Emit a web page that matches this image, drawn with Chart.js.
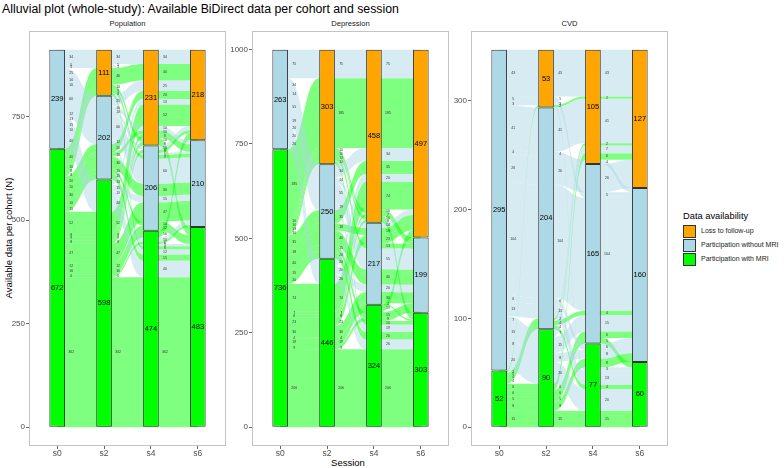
<!DOCTYPE html>
<html><head><meta charset="utf-8">
<script src="https://cdn.jsdelivr.net/npm/chart.js@4.4.1/dist/chart.umd.min.js"></script>
<style>
body{margin:0;width:784px;height:468px;position:relative;background:#fff;font-family:"Liberation Sans",Arial,sans-serif;overflow:hidden}
.abs{position:absolute;white-space:nowrap}
.strip{position:absolute;top:19px;width:197px;text-align:center;font-size:7.6px;color:#1A1A1A}
.key{position:absolute;left:683px;width:11px;height:11px;border:1px solid #333}
.ktxt{position:absolute;left:701px;font-size:7px;color:#1A1A1A;white-space:nowrap}
canvas{position:absolute}
</style></head><body>
<div class="abs" style="left:2px;top:2px;font-size:12.3px;color:#000">Alluvial plot (whole-study): Available BiDirect data per cohort and session</div>
<div class="strip" style="left:29px">Population</div>
<div class="strip" style="left:252px">Depression</div>
<div class="strip" style="left:471px">CVD</div>
<div class="abs" style="left:8px;top:238px;font-size:9.5px;transform:translate(-50%,-50%) rotate(-90deg)">Available data per cohort (N)</div>
<div class="abs" style="left:348px;top:457px;font-size:9.5px;transform:translateX(-50%)">Session</div>
<div class="abs" style="left:683px;top:211px;font-size:9.3px">Data availability</div>
<div class="key" style="top:225px;background:#FFA500"></div>
<div class="key" style="top:239px;background:#ADD8E6"></div>
<div class="key" style="top:253px;background:#00FF00"></div>
<div class="ktxt" style="top:227px">Loss to follow-up</div>
<div class="ktxt" style="top:241px">Participation without MRI</div>
<div class="ktxt" style="top:255px">Participation with MRI</div>
<canvas id="c1" width="237" height="455"></canvas>
<canvas id="c2" width="237" height="455"></canvas>
<canvas id="c3" width="237" height="455"></canvas>
<script>
const sessions = ['s0','s2','s4','s6'];
const cohorts = ['Population','Depression','CVD'];

// strata counts per session
const popWithMRI = [672,598,474,483];
const popWithoutMRI = [239,202,206,210];
const popLoss = [0,111,231,218];
const depWithMRI = [736,446,324,303];
const depWithoutMRI = [263,250,217,199];
const depLoss = [0,303,458,497];
const cvdWithMRI = [52,90,77,60];
const cvdWithoutMRI = [295,204,165,160];
const cvdLoss = [0,53,105,127];

// y tick labels
const popTicks = [0,250,500,750];
const depTicks = [0,250,500,750,1000];
const cvdTicks = [0,100,200,300];

// alluvia: status at s0,s2,s4,s6 (M = with MRI, P = without MRI, L = loss) and their counts
const popPaths = ['MMMM','MMMP','MMML','MMPM','MMPP','MMPL','MMLM','MMLP','MMLL',
  'MPMM','MPPP','MPPM','MPLL','MPLP','MLLL','MLMM','MLPP','MLLM',
  'PMMM','PMPP','PMLL','PMMP','PPPP','PPMM','PPLL','PPPL','PPLP','PLLL','PLPP','PLMM'];
const popCounts = [362,6,16,12,47,8,9,8,52,
  15,30,10,20,10,40,8,9,10,
  40,15,13,10,60,12,25,10,10,34,5,5];
const depPaths = ['MMMM','MMMP','MMML','MMPM','MMPP','MMPL','MMLL','MMLM','MMLP',
  'MPPP','MPMM','MPLL','MPPL','MPMP','MLLL','MLMM','MLPP','MLLP','MLLM',
  'PMMM','PMPP','PMLL','PPPP','PPLL','PPMM','PPPL','PLLL'];
const depCounts = [206,9,19,4,30,23,74,8,7,
  40,20,35,18,15,185,10,13,10,10,
  26,20,20,55,34,19,14,75];
const cvdPaths = ['MMMM','MMMP','MMPM','MMPP','MMLL','MPMM','MPPP','MPLL','MLLL',
  'PMMM','PMPP','PMMP','PMLL','PPPP','PPMM','PPLL','PPPL','PPMP','PPLP','PLLL','PLPP','PLMM'];
const cvdCounts = [15,8,5,6,6,4,4,2,2,
  20,15,8,7,104,13,41,26,6,4,43,5,3];

const rankOf = {M:0, P:1, L:2};
const zig = [[0,1,2,3],[1,0,2,3],[2,3,1,0],[3,2,1,0]];
function lodePositions(paths, counts){
  const pos = paths.map(()=>[]);
  for (let i=0;i<4;i++){
    const idx = paths.map((_,k)=>k).sort((a,b)=>{
      for (const ax of zig[i]) { const d = rankOf[paths[a][ax]] - rankOf[paths[b][ax]]; if (d) return d; }
      return a-b;
    });
    let cum=0;
    for (const k of idx){ pos[k][i]=[cum,cum+counts[k]]; cum+=counts[k]; }
  }
  return pos;
}

Chart.defaults.font.family = '"Liberation Sans", Arial, sans-serif';

const alluvialPlugin = {
  id:'alluvia',
  beforeDatasetsDraw(chart, args, opts){
    const {ctx, chartArea:ca, scales:{x,y}} = chart;
    const pos = lodePositions(opts.paths, opts.counts);
    const half = chart.getDatasetMeta(0).data[0].width/2;
    ctx.save();
    ctx.beginPath(); ctx.rect(ca.left, ca.top, ca.width, ca.height); ctx.clip();
    opts.paths.forEach((p,k)=>{
      ctx.fillStyle = p[0]==='M' ? 'rgba(0,255,0,0.5)' : 'rgba(173,216,230,0.5)';
      for (let i=0;i<3;i++){
        const x0 = x.getPixelForValue(i+1), x1 = x.getPixelForValue(i+2);
        const xa = x0+half, xb = x1-half, xm = (xa+xb)/2;
        const t0 = y.getPixelForValue(pos[k][i][1]), b0 = y.getPixelForValue(pos[k][i][0]);
        const t1 = y.getPixelForValue(pos[k][i+1][1]), b1 = y.getPixelForValue(pos[k][i+1][0]);
        ctx.beginPath();
        ctx.moveTo(x0,t0); ctx.lineTo(xa,t0);
        ctx.bezierCurveTo(xm,t0,xm,t1,xb,t1);
        ctx.lineTo(x1,t1); ctx.lineTo(x1,b1); ctx.lineTo(xb,b1);
        ctx.bezierCurveTo(xm,b1,xm,b0,xa,b0);
        ctx.lineTo(x0,b0); ctx.closePath(); ctx.fill();
      }
    });
    ctx.restore();
  },
  afterDatasetsDraw(chart, args, opts){
    const {ctx, chartArea:ca, scales:{x,y}} = chart;
    const pos = lodePositions(opts.paths, opts.counts);
    ctx.save();
    // small alluvium count labels
    ctx.font = '3.5px "Liberation Sans", Arial, sans-serif';
    ctx.fillStyle = '#333';
    ctx.textAlign = 'center'; ctx.textBaseline = 'middle';
    opts.paths.forEach((p,k)=>{
      for (let i=0;i<3;i++){
        ctx.fillText(String(opts.counts[k]), x.getPixelForValue(i+1.3), y.getPixelForValue((pos[k][i][0]+pos[k][i][1])/2));
      }
    });
    // stratum labels
    ctx.font = '7.5px "Liberation Sans", Arial, sans-serif';
    ctx.fillStyle = '#000';
    chart.data.datasets.forEach((ds,d)=>{
      chart.getDatasetMeta(d).data.forEach((bar,i)=>{
        if (ds.data[i].y > 0) ctx.fillText(String(ds.data[i].y), bar.x, (bar.y+bar.base)/2);
      });
    });
    // panel border
    ctx.strokeStyle = '#C4C4C4'; ctx.lineWidth = 1;
    ctx.strokeRect(Math.round(ca.left)+0.5, Math.round(ca.top)+0.5, Math.round(ca.width)-1, Math.round(ca.height)-1);
    ctx.restore();
  }
};

function makeChart(id, panelLeft, withMRI, withoutMRI, loss, ticks, paths, counts){
  const total = withMRI[0]+withoutMRI[0]+loss[0];
  const tickFont = {size:8};
  const canvas = document.getElementById(id);
  canvas.style.left = (panelLeft-30)+'px'; canvas.style.top = '21px';
  const chart = new Chart(canvas, {
    type:'bar',
    data:{datasets:[
      {label:'Participation with MRI', data: sessions.map((s,i)=>({x:i+1,y:withMRI[i]})), backgroundColor:'#00FF00'},
      {label:'Participation without MRI', data: sessions.map((s,i)=>({x:i+1,y:withoutMRI[i]})), backgroundColor:'#ADD8E6'},
      {label:'Loss to follow-up', data: sessions.map((s,i)=>({x:i+1,y:loss[i]})), backgroundColor:'#FFA500'}
    ]},
    options:{
      responsive:false, animation:false,
      layout:{padding:{top:10,right:10,left:0,bottom:0}},
      datasets:{bar:{barPercentage:1/3, categoryPercentage:1, borderColor:'#333', borderWidth:1, borderSkipped:false}},
      plugins:{legend:{display:false}, tooltip:{enabled:false}, alluvia:{paths, counts}},
      scales:{
        x:{type:'linear', stacked:true, min:0.4, max:4.6, offset:false,
          afterBuildTicks: s=>{ s.ticks = sessions.map((_,i)=>({value:i+1})); },
          ticks:{callback:(v)=>sessions[Math.round(v)-1], font:{size:8.5}, color:'#4D4D4D', padding:0, autoSkip:false, maxRotation:0},
          grid:{drawOnChartArea:false, drawTicks:true, tickLength:3, color:'#666', offset:false},
          border:{display:false},
          afterFit: s=>{ s.height = 30; }},
        y:{type:'linear', stacked:true, min:-0.05*total, max:1.05*total,
          afterBuildTicks: s=>{ s.ticks = ticks.map(v=>({value:v})); },
          ticks:{font:tickFont, color:'#4D4D4D', padding:1, callback:(v)=>String(v)},
          grid:{drawOnChartArea:false, drawTicks:true, tickLength:3, color:'#666'},
          border:{display:false},
          afterFit: s=>{ s.width = 30; }}
      }
    },
    plugins:[alluvialPlugin]
  });
  const ca = chart.chartArea;
  canvas.style.left = (panelLeft - ca.left)+'px';
  canvas.style.top = (31 - ca.top)+'px';
  return chart;
}

makeChart('c1', 29, popWithMRI, popWithoutMRI, popLoss, popTicks, popPaths, popCounts);
makeChart('c2', 252, depWithMRI, depWithoutMRI, depLoss, depTicks, depPaths, depCounts);
makeChart('c3', 471, cvdWithMRI, cvdWithoutMRI, cvdLoss, cvdTicks, cvdPaths, cvdCounts);
</script>
</body></html>
